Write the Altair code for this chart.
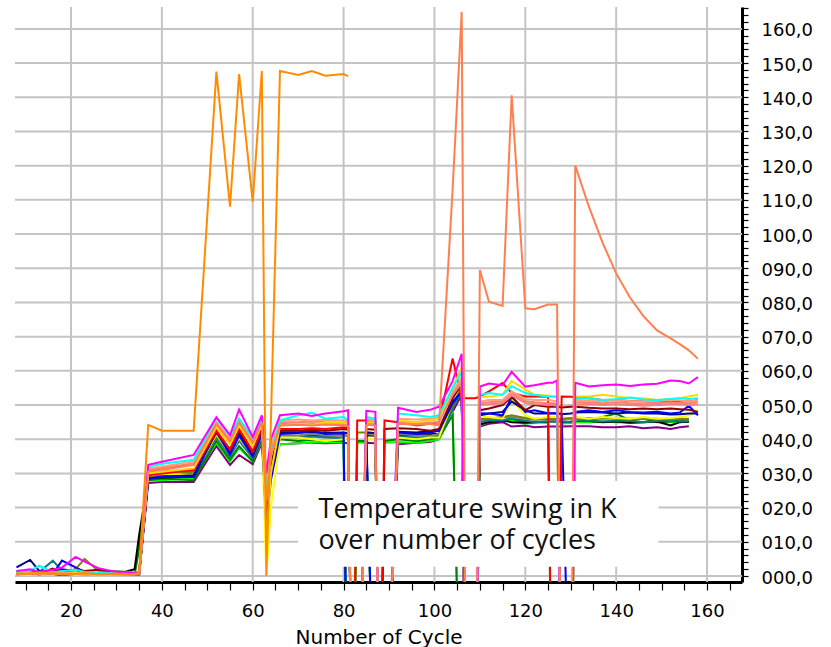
import altair as alt
import pandas as pd

N = None      # no reading (series ended)
D = -60.0     # sensor dropout: line runs off the bottom of the plot

CYCLES = [8, 11, 13, 16, 18, 21, 23, 26, 30, 34,
          35, 37, 40, 47, 52, 55, 57, 60, 62, 63, 64, 66,
          70, 73, 76, 80, 81, 82, 83, 85, 87, 88, 89, 92, 96, 99, 101,
          104, 106, 107, 109, 110, 112, 115, 117, 120, 122, 125, 126, 127, 128, 130, 131,
          134, 137, 140, 143, 146, 149, 152, 154, 156, 158]

PURPLE = [0.6, 0.5, 0.8, 0.5, 0.6, 0.5, 0.4, 0.6, 0.5, 0.4,
          0.5, 27.2, 27.5, 27.5, 38.0, 32.5, 35.4, 32.7, 38.9, 25.0, 33.0, 38.5,
          38.8, 39.0, 38.8, 39.0, 38.8, D, D, 39.0, 38.8, D, D, 38.5, 39.0, 39.2, 40.0,
          48.0, 53.0, D, D, 43.7, 44.5, 45.0, 43.7, 44.0, 43.5, 43.7, 43.7, 43.7, 43.7, 43.8, 43.8,
          43.8, 43.5, 43.5, 43.8, 43.2, 43.5, 43.0, 43.5, 43.8, N]
LIME = [0.5, 0.4, 0.6, 0.4, 0.5, 0.4, 0.3, 0.5, 0.4, 0.5,
        10.0, 28.0, 28.0, 28.5, 39.0, 33.5, 37.5, 33.5, 39.5, 15.0, 30.0, 38.5,
        38.8, 39.0, 39.2, 39.0, D, D, 39.0, 39.0, D, D, 39.0, 39.2, 39.0, 39.5, 40.0,
        47.5, D, D, D, 44.1, 45.0, 45.6, 45.5, 44.5, 44.8, 44.8, D, D, 44.5, 44.8, 45.0,
        45.0, 45.2, 45.0, 44.8, 45.0, 45.2, 45.0, 45.0, 45.2, N]
GREEN = [0.8, 0.5, 1.0, 0.6, 0.3, 0.8, 0.5, 0.6, 0.7, 0.4,
         8.0, 28.0, 28.5, 28.0, 39.5, 34.0, 38.0, 33.5, 40.0, 18.0, 35.0, 40.0,
         39.5, 39.8, 39.5, 39.5, D, D, 39.5, 39.5, D, D, 39.5, 40.0, 39.5, 40.0, 40.5,
         47.0, D, D, D, 45.0, 45.5, 45.6, 46.0, 45.0, 45.2, 45.0, D, D, 45.0, 45.2, 45.5,
         45.5, 46.5, 47.5, 45.5, 46.0, 45.0, 45.2, 45.5, 45.0, N]
BLACK = [1.0, 0.7, 0.5, 0.8, 0.6, 0.5, 0.8, 0.6, 0.5, 2.0,
         12.0, 28.5, 28.8, 29.0, 41.0, 35.0, 40.0, 34.5, 40.5, 20.0, 30.0, 41.0,
         41.0, 41.2, 41.0, 41.2, 41.0, D, D, 41.2, 41.0, D, D, 41.0, 41.2, 41.5, 41.5,
         50.0, 54.0, D, D, 44.3, 45.0, 45.5, 45.0, 44.8, 45.0, 45.2, 45.2, 45.2, 45.2, 45.0, 45.3,
         45.3, 45.0, 45.2, 44.8, 45.0, 45.2, 44.0, 45.0, 45.2, N]
TEAL = [1.5, 1.0, 1.2, 4.5, 1.5, 1.0, 0.8, 0.7, 0.6, 0.6,
        0.6, 28.5, 29.0, 29.5, 40.5, 35.0, 39.5, 34.5, 40.5, 20.0, 30.0, 40.5,
        40.5, 40.8, 40.5, 40.3, D, D, D, 40.5, D, D, D, 40.8, 40.5, 40.8, 41.0,
        49.0, 54.0, D, D, 45.0, 45.5, 45.5, 46.0, 45.5, 45.0, 45.2, 45.2, 45.2, 45.2, 45.0, 45.3,
        45.5, 45.2, 45.5, 45.3, 45.0, 45.3, 45.5, 45.2, 45.3, N]
GRAY = [1.0, 0.8, 1.5, 1.2, 0.8, 0.6, 1.0, 0.8, 1.5, 1.0,
        1.0, 29.0, 29.5, 30.0, 41.0, 35.5, 40.0, 35.0, 41.0, 22.0, 32.0, 41.0,
        41.0, 41.5, 41.2, 41.0, 41.0, D, D, 41.5, 41.2, D, D, 41.5, 41.2, 41.0, 41.5,
        50.0, 55.0, D, D, 45.5, 46.0, 46.5, 46.5, 46.0, 45.8, 45.8, 45.8, 45.8, 45.8, 46.0, 46.0,
        46.2, 46.0, 46.3, 46.0, 46.2, 46.0, 45.8, 46.0, 46.0, N]
OLIVE = [1.0, 1.2, 0.8, 1.5, 1.0, 2.0, 5.0, 1.5, 0.8, 0.6,
         0.6, 29.0, 29.5, 30.5, 41.5, 36.5, 41.5, 35.5, 42.0, 28.0, 30.0, 42.0,
         42.0, 41.8, 42.0, 41.8, 41.8, D, 42.0, 42.0, 41.8, D, D, 42.0, 41.8, 42.0, 42.5,
         50.0, 55.0, D, D, 46.0, 46.0, 46.5, 47.0, 46.2, 46.0, 46.0, 46.0, 46.0, 46.0, 46.2, 46.0,
         46.0, 46.2, 46.0, 45.8, 46.0, 45.8, 46.0, 46.0, 45.8, N]
YELLOW = [0.5, 0.3, 0.6, 0.4, 0.8, 0.3, 0.5, 0.2, 0.4, 0.3,
          0.5, 29.5, 30.0, 29.5, 41.5, 36.0, 40.5, 35.5, 43.0, 0.0, 20.0, 40.5,
          40.5, 40.0, 39.5, 40.0, 40.5, D, D, 40.0, 40.0, D, D, 40.5, 40.0, 40.5, 40.5,
          51.0, 58.0, D, D, 47.0, 46.5, 46.0, 51.4, 47.0, 46.0, 46.5, 46.5, 46.5, D, D, 46.5,
          46.0, 46.5, 46.2, 46.0, 46.5, 46.0, 46.2, 46.5, 47.0, 48.5]
NAVY = [2.5, 4.7, 1.5, 1.0, 2.0, 1.5, 1.0, 0.8, 0.5, 0.5,
        0.5, 28.5, 29.0, 29.5, 42.0, 36.0, 42.0, 35.5, 42.0, 18.0, 30.0, 42.0,
        42.0, 42.2, 41.8, 42.0, 41.8, D, D, 42.0, 41.8, D, D, 42.2, 42.0, 42.3, 42.5,
        50.5, 54.0, D, D, 47.0, 47.5, 48.0, 51.0, 48.5, 47.5, 47.5, 47.5, 47.5, 47.3, 47.5, 47.8,
        48.0, 47.8, 47.5, 47.8, 47.5, 47.5, 47.2, 47.3, 47.5, 47.5]
BLUE = [0.8, 1.5, 1.0, 0.6, 4.5, 2.5, 1.2, 0.8, 0.5, 0.5,
        0.5, 28.5, 29.0, 29.0, 42.5, 35.5, 41.0, 35.0, 41.5, 15.0, 28.0, 41.5,
        41.8, 42.5, 41.5, 41.8, D, D, D, 42.0, D, D, D, 42.0, 41.5, 42.0, 42.5,
        51.0, 53.9, D, D, 47.6, 47.5, 47.0, 52.4, 48.0, 48.5, 47.6, 47.6, 47.6, 47.5, D, 48.0,
        48.5, 48.0, 48.5, 48.0, 47.8, 48.0, 47.5, 47.8, 49.8, 47.0]
DARKRED = [0.7, 1.5, 0.8, 2.2, 1.0, 2.0, 1.5, 1.8, 1.2, 0.8,
           1.0, 29.5, 30.5, 31.0, 42.0, 37.0, 42.5, 36.0, 42.5, 25.0, 33.0, 42.5,
           42.5, 42.8, 42.5, 43.0, 42.8, D, D, 43.0, 42.8, D, 43.0, 43.2, 43.0, 42.5, 43.0,
           52.0, 56.0, D, D, 48.5, 49.0, 50.0, 52.4, 48.5, 50.0, 49.5, 49.5, 49.5, 49.3, 49.5, 49.5,
           49.2, 49.0, 49.0, 48.8, 49.0, 48.8, 49.0, 48.8, 48.6, 48.0]
RED = [0.5, 0.7, 1.0, 0.6, 0.8, 0.9, 0.6, 0.8, 0.5, 0.6,
       0.8, 29.5, 30.0, 31.0, 42.5, 37.0, 43.0, 36.5, 43.0, 20.0, 38.0, 43.0,
       43.0, 43.2, 43.0, 43.5, 43.2, D, 45.5, 45.5, 45.0, D, 45.5, 45.0, 44.0, 44.5, 45.0,
       63.6, 52.0, 52.0, 52.0, 52.5, 54.0, 56.4, 53.5, 52.5, 52.5, 52.4, D, D, 52.5, 52.4, 52.3,
       52.0, 51.5, 51.5, 51.2, 51.0, 51.0, 51.2, 51.0, 51.0, 51.5]
LIGHTCORAL = [0.8, 0.6, 0.5, 0.8, 1.0, 0.7, 0.5, 0.4, 0.5, 0.6,
              0.8, 30.5, 31.0, 32.5, 44.0, 39.0, 44.5, 38.5, 44.5, 24.0, 35.0, 44.5,
              44.5, 44.6, 44.3, 44.5, 44.2, D, D, 44.5, 44.4, D, D, 44.8, 44.5, 44.8, 45.0,
              53.0, 56.5, D, D, 50.0, 50.2, 50.5, 52.8, 50.6, 50.3, 50.0, 50.0, 49.8, D, D, 50.2,
              50.3, 50.0, 50.2, 50.0, 49.8, 50.0, 50.3, 50.2, 50.0, 50.2]
SALMON = [0.6, 1.0, 0.8, 1.2, 0.7, 0.6, 1.0, 0.8, 0.6, 0.7,
          1.0, 31.0, 31.5, 33.0, 44.5, 39.5, 45.0, 39.0, 45.0, 26.0, 36.0, 45.0,
          45.0, 45.2, 45.0, 44.8, 44.7, D, D, 45.0, 44.8, D, D, 45.3, 45.0, 45.5, 46.0,
          53.5, 57.0, D, D, 50.5, 50.8, 51.0, 53.5, 51.2, 50.8, 50.5, 50.5, 50.3, D, D, 50.8,
          50.8, 50.5, 50.8, 50.5, 50.2, 50.5, 50.8, 50.5, 50.5, 50.8]
LIGHTSALMON = [1.0, 0.8, 1.2, 0.6, 0.9, 1.2, 0.7, 0.6, 0.5, 0.5,
               0.8, 31.5, 32.0, 33.5, 45.0, 40.0, 45.5, 39.5, 45.5, 28.0, 38.0, 45.5,
               45.8, 45.5, 45.7, 45.5, 45.2, D, D, 45.8, 45.5, D, D, 46.0, 45.8, 46.0, 46.5,
               54.0, 58.0, D, D, 51.0, 51.5, 51.5, 54.0, 51.8, 51.5, 51.5, 51.3, 51.0, D, D, 51.5,
               51.3, 51.0, 51.5, 51.2, 51.0, 51.2, 51.5, 51.3, 51.0, 51.5]
GOLD = [0.8, 1.0, 0.6, 1.0, 0.5, 0.8, 0.6, 0.5, 0.4, 0.6,
        0.8, 30.0, 30.5, 31.5, 43.5, 38.5, 44.0, 38.0, 44.5, 10.0, 30.0, 44.0,
        44.5, 44.2, 45.0, 44.8, 44.5, D, D, 45.0, 45.0, D, D, 45.5, 45.0, 45.5, 46.0,
        55.0, 61.0, D, D, 52.4, 52.4, 53.0, 57.0, 54.6, 53.0, 52.8, 52.6, 52.4, D, D, 52.5,
        52.5, 53.0, 52.5, 52.0, 52.0, 51.5, 51.8, 52.0, 52.5, 53.0]
CYAN = [1.2, 1.5, 3.0, 1.0, 1.5, 1.8, 1.2, 1.0, 0.8, 1.0,
        1.0, 32.0, 32.8, 34.0, 46.2, 41.0, 46.0, 40.5, 46.0, 25.0, 35.0, 45.5,
        47.0, 47.7, 46.0, 46.5, 45.5, D, D, 46.5, 46.0, D, D, 47.5, 47.0, 46.5, 47.0,
        55.0, 59.7, D, D, 53.0, 53.5, 53.0, 55.5, 53.5, 53.0, 52.4, 52.4, 52.4, D, D, 52.0,
        52.0, 51.5, 51.8, 52.2, 51.6, 51.5, 51.8, 52.0, 51.8, 52.0]
MAGENTA = [1.5, 2.0, 1.2, 1.8, 2.5, 5.6, 4.2, 2.3, 1.2, 0.8,
           1.0, 32.5, 33.4, 35.4, 46.4, 41.2, 48.7, 40.7, 47.0, 30.0, 40.0, 47.0,
           47.5, 46.8, 47.5, 48.2, 48.5, D, D, 48.3, 48.0, D, D, 49.2, 48.0, 48.6, 49.5,
           57.0, 65.0, D, D, 55.4, 56.3, 55.8, 59.7, 55.4, 55.8, 56.5, 56.5, 57.2, D, D, 56.5,
           55.4, 55.8, 56.0, 55.6, 56.0, 56.2, 57.2, 57.0, 56.3, 58.2]
CORAL = [0.5, 0.8, 0.6, 0.9, 0.7, 0.5, 0.8, 0.6, 0.7, 0.5,
         0.7, 30.5, 31.5, 32.5, 44.5, 39.5, 45.0, 39.0, 45.0, 22.0, 35.0, 44.0,
         44.2, 44.0, 44.3, 44.0, 43.8, D, D, 44.2, 44.0, D, D, 44.5, 44.2, 44.5, 44.0,
         113.0, 165.0, D, D, 89.5, 80.2, 79.0, 140.6, 78.3, 78.0, 79.4, 79.4, 79.4, D, D, 120.0,
         108.0, 97.5, 88.5, 81.5, 76.0, 71.8, 69.5, 67.8, 66.0, 63.5]
ORANGE = [0.8, 0.6, 1.0, 0.7, 0.5, 0.6, 0.8, 0.5, 0.6, 0.5,
          1.0, 44.2, 42.5, 42.5, 147.5, 108.0, 146.8, 109.4, 147.7, 0.0, 45.0, 147.7,
          146.5, 147.7, 146.3, 146.8, 146.2]

SERIES = [
    ("purple", "#800080", PURPLE), ("lime", "#00ff00", LIME),
    ("green", "#008000", GREEN), ("black", "#000000", BLACK),
    ("teal", "#008080", TEAL), ("gray", "#808080", GRAY),
    ("olive", "#808000", OLIVE), ("yellow", "#ffff00", YELLOW),
    ("navy", "#00008b", NAVY), ("blue", "#0000ff", BLUE),
    ("darkred", "#8b0000", DARKRED), ("red", "#ff0000", RED),
    ("lightcoral", "#f08080", LIGHTCORAL), ("salmon", "#fa8072", SALMON),
    ("lightsalmon", "#ffa07a", LIGHTSALMON), ("gold", "#ffd700", GOLD),
    ("cyan", "#00ffff", CYAN), ("magenta", "#ff00ff", MAGENTA),
    ("coral", "#ff7f50", CORAL), ("orange", "#ff8c00", ORANGE),
]

X_DOMAIN = [7.67, 167.7]
Y_DOMAIN = [-1.75, 166.4]
X_TICKS = list(range(10, 166, 5))
Y_TICKS = list(range(0, 167, 2))
GRID_X = list(range(20, 161, 20))
GRID_Y = list(range(0, 161, 10))

BOX = {"cycle": [70.0], "cycle_end": [149.3], "swing": [2.7], "swing_end": [27.8]}
NOTE_X = [74.5, 74.5]
NOTE_Y = [17.0, 7.9]
NOTE_TEXT = ["Temperature swing in K", "over number of cycles"]

rows = []
for name, color, vals in SERIES:
    for c, v in zip(CYCLES, vals):
        if v is not None:
            rows.append({"cycle": c, "swing": v, "sensor": name})
df = pd.DataFrame(rows)

xs = alt.Scale(domain=X_DOMAIN, nice=False, zero=False)
ys = alt.Scale(domain=Y_DOMAIN, nice=False, zero=False)
FONT = "DejaVu Sans"

x_axis = alt.Axis(
    values=X_TICKS, labelExpr="datum.value % 20 == 0 ? datum.label : ''",
    grid=False, domainWidth=3, domainColor="black", tickColor="black",
    tickSize=8, tickWidth=1.2, labelFont=FONT, labelFontSize=18,
    labelColor="black", labelPadding=12, labelOverlap=False, labelFlush=False,
    title="Number of Cycle", titleFont=FONT, titleFontSize=20,
    titleFontWeight="normal", titleColor="black", titleBaseline="alphabetic",
    titleY=61,
)
y_axis = alt.Axis(
    orient="right", values=Y_TICKS,
    labelExpr="datum.value % 10 == 0 ? replace(format(datum.value, '05.1f'), '.', ',') : ''",
    grid=False, domainWidth=3, domainColor="black", tickColor="black",
    tickSize=6, tickWidth=1.2, labelFont=FONT, labelFontSize=18,
    labelColor="black", labelPadding=13, labelOverlap=False, labelFlush=False,
    labelBound=False, labelOffset=2, title="",
)

X = alt.X("cycle:Q", scale=xs, axis=x_axis)
Y = alt.Y("swing:Q", scale=ys, axis=y_axis)

vgrid = alt.Chart(pd.DataFrame({"cycle": GRID_X})).mark_rule(
    color="#c4c4c4", strokeWidth=2
).encode(x=X)

hgrid = alt.Chart(pd.DataFrame({"swing": GRID_Y})).mark_rule(
    color="#c4c4c4", strokeWidth=2
).encode(y=Y)

lines = alt.Chart(df).mark_line(strokeWidth=2, clip=True).encode(
    x=X, y=Y,
    color=alt.Color("sensor:N", legend=None,
                    scale=alt.Scale(domain=[s[0] for s in SERIES],
                                    range=[s[1] for s in SERIES])),
    order=alt.Order("cycle:Q"),
)

box = alt.Chart(pd.DataFrame(BOX)).mark_rect(color="white").encode(
    x=X, x2="cycle_end:Q", y=Y, y2="swing_end:Q",
)

note = alt.Chart(pd.DataFrame({"cycle": NOTE_X, "swing": NOTE_Y, "label": NOTE_TEXT})).mark_text(
    align="left", baseline="alphabetic", font="Open Sans", fontSize=27, color="#111111"
).encode(x=X, y=Y, text="label:N")

chart = alt.layer(vgrid, hgrid, lines, box, note).properties(
    width=727, height=575,
    autosize=alt.AutoSizeParams(type="none"),
    padding={"left": 15, "top": 7, "right": 89, "bottom": 65},
).configure_view(stroke=None)

chart.save("out.html", embed_options={"renderer": "svg", "actions": False})
